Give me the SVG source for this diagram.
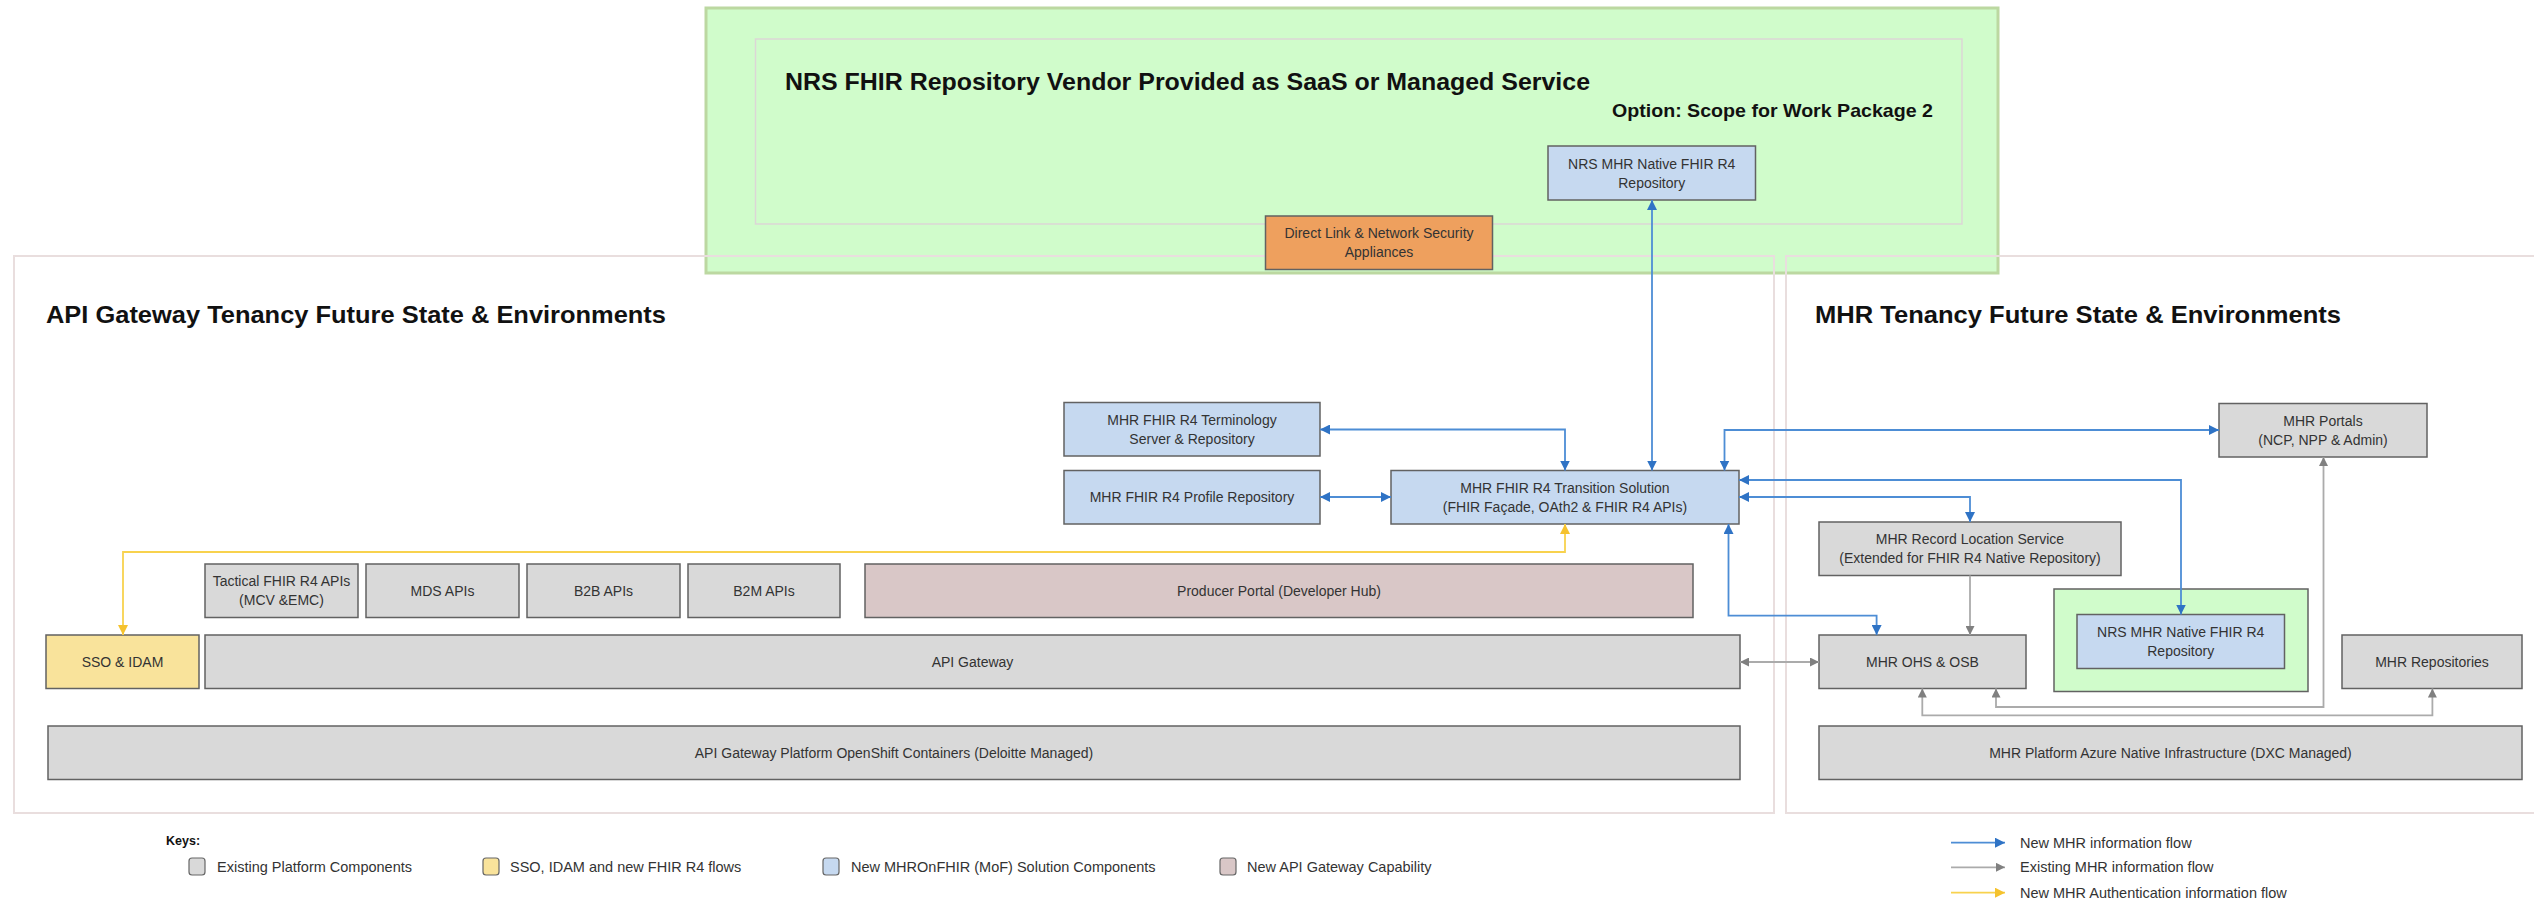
<svg xmlns="http://www.w3.org/2000/svg" width="2534" height="900" viewBox="0 0 2534 900">
  <style>
    text { font-family: "Liberation Sans", Arial, sans-serif; }
    .node rect { stroke: #626262; stroke-width: 1.5; }
    .node text { font-size: 14px; fill: #333333; text-anchor: middle; dominant-baseline: central; }
    .grey { fill: #d9d9d9; }
    .blue { fill: #c6d9f0; }
    .yellow { fill: #f9e39b; }
    .rose { fill: #d9c7c7; }
    .orange { fill: #eea05e; }
    .title { font-size: 24px; font-weight: bold; fill: #111111; }
    .zone { fill: none; stroke: #e9dede; stroke-width: 2; }
    .flow { fill: none; stroke-width: 1.8; }
    .new { stroke: #4d8dd5; }
    .old { stroke: #ababab; }
    .auth { stroke: #f8d24e; }
    .legend { font-size: 14.5px; fill: #333333; dominant-baseline: central; }
    .swatch { stroke: #666666; stroke-width: 1.2; }
  </style>
  <defs>
    <marker id="arrow-new" viewBox="0 0 10 10" refX="10" refY="5" markerUnits="userSpaceOnUse" markerWidth="10" markerHeight="10" orient="auto-start-reverse">
      <path d="M0,0 L10,5 L0,10 z" fill="#2f73c5"/>
    </marker>
    <marker id="arrow-old" viewBox="0 0 10 10" refX="10" refY="5" markerUnits="userSpaceOnUse" markerWidth="9" markerHeight="9" orient="auto-start-reverse">
      <path d="M0,0 L10,5 L0,10 z" fill="#808080"/>
    </marker>
    <marker id="arrow-auth" viewBox="0 0 10 10" refX="10" refY="5" markerUnits="userSpaceOnUse" markerWidth="10" markerHeight="10" orient="auto-start-reverse">
      <path d="M0,0 L10,5 L0,10 z" fill="#f5c22e"/>
    </marker>
  </defs>

  <rect width="2534" height="900" fill="#ffffff"/>

  <!-- Vendor SaaS / managed service zone -->
  <g id="vendor-zone">
    <rect x="706" y="8" width="1292" height="265" fill="#d0fccb" stroke="#bcd8a1" stroke-width="3"/>
    <rect x="755.5" y="39" width="1206.5" height="185" fill="none" stroke="#dcd6d6" stroke-width="1.5"/>
    <text class="title" x="785" y="90" textLength="805" lengthAdjust="spacingAndGlyphs">NRS FHIR Repository Vendor Provided as SaaS or Managed Service</text>
    <text x="1612" y="117" font-size="19" font-weight="bold" fill="#111111" textLength="321" lengthAdjust="spacingAndGlyphs">Option: Scope for Work Package 2</text>
  </g>

  <!-- Tenancy zones -->
  <g id="api-gateway-tenancy">
    <rect class="zone" x="14" y="256" width="1760" height="557"/>
    <text class="title" x="46" y="323" textLength="620" lengthAdjust="spacingAndGlyphs">API Gateway Tenancy Future State &amp; Environments</text>
  </g>
  <g id="mhr-tenancy">
    <rect class="zone" x="1786" y="256" width="780" height="557"/>
    <text class="title" x="1815" y="323" textLength="526" lengthAdjust="spacingAndGlyphs">MHR Tenancy Future State &amp; Environments</text>
  </g>

  <!-- Nodes -->
  <g id="nrs-repo-vendor" class="node">
    <rect class="blue" x="1548" y="146" width="207.5" height="54"/>
    <text x="1651.7" y="164">NRS MHR Native FHIR R4</text>
    <text x="1651.7" y="183">Repository</text>
  </g>
  <g id="direct-link" class="node">
    <rect class="orange" x="1265.5" y="216" width="227" height="53.5"/>
    <text x="1379" y="233">Direct Link &amp; Network Security</text>
    <text x="1379" y="252">Appliances</text>
  </g>

  <g id="terminology" class="node">
    <rect class="blue" x="1064" y="402.5" width="256" height="53.5"/>
    <text x="1192" y="419.5">MHR FHIR R4 Terminology</text>
    <text x="1192" y="438.5">Server &amp; Repository</text>
  </g>
  <g id="profile-repo" class="node">
    <rect class="blue" x="1064" y="470.5" width="256" height="53.5"/>
    <text x="1192" y="497">MHR FHIR R4 Profile Repository</text>
  </g>
  <g id="transition" class="node">
    <rect class="blue" x="1391" y="470.5" width="348" height="53.5"/>
    <text x="1565" y="487.5">MHR FHIR R4 Transition Solution</text>
    <text x="1565" y="506.5">(FHIR Façade, OAth2 &amp; FHIR R4 APIs)</text>
  </g>

  <g id="tactical-apis" class="node">
    <rect class="grey" x="205" y="564" width="153" height="53.5"/>
    <text x="281.5" y="581">Tactical FHIR R4 APIs</text>
    <text x="281.5" y="600">(MCV &amp;EMC)</text>
  </g>
  <g id="mds-apis" class="node">
    <rect class="grey" x="366" y="564" width="153" height="53.5"/>
    <text x="442.5" y="591">MDS APIs</text>
  </g>
  <g id="b2b-apis" class="node">
    <rect class="grey" x="527" y="564" width="153" height="53.5"/>
    <text x="603.5" y="591">B2B APIs</text>
  </g>
  <g id="b2m-apis" class="node">
    <rect class="grey" x="688" y="564" width="152" height="53.5"/>
    <text x="764" y="591">B2M APIs</text>
  </g>
  <g id="producer-portal" class="node">
    <rect class="rose" x="865" y="564" width="828" height="53.5"/>
    <text x="1279" y="591">Producer Portal (Developer Hub)</text>
  </g>

  <g id="sso-idam" class="node">
    <rect class="yellow" x="46" y="635" width="153" height="53.5"/>
    <text x="122.5" y="662">SSO &amp; IDAM</text>
  </g>
  <g id="api-gateway" class="node">
    <rect class="grey" x="205" y="635" width="1535" height="53.5"/>
    <text x="972.5" y="662">API Gateway</text>
  </g>
  <g id="api-platform" class="node">
    <rect class="grey" x="48" y="726" width="1692" height="53.5"/>
    <text x="894" y="753">API Gateway Platform OpenShift Containers (Deloitte Managed)</text>
  </g>

  <g id="mhr-portals" class="node">
    <rect class="grey" x="2219" y="403.5" width="208" height="53.5"/>
    <text x="2323" y="420.5">MHR Portals</text>
    <text x="2323" y="439.5">(NCP, NPP &amp; Admin)</text>
  </g>
  <g id="record-location" class="node">
    <rect class="grey" x="1819" y="522" width="302" height="53.5"/>
    <text x="1970" y="539">MHR Record Location Service</text>
    <text x="1970" y="558">(Extended for FHIR R4 Native Repository)</text>
  </g>
  <g id="ohs-osb" class="node">
    <rect class="grey" x="1819" y="635" width="207" height="53.5"/>
    <text x="1922.5" y="662">MHR OHS &amp; OSB</text>
  </g>
  <g id="nrs-repo-mhr" class="node">
    <rect x="2054" y="589" width="254" height="102.5" fill="#d0fccb" stroke="#bcd8a1" stroke-width="3"/>
    <rect class="blue" x="2077" y="614.5" width="207.5" height="54"/>
    <text x="2180.7" y="632">NRS MHR Native FHIR R4</text>
    <text x="2180.7" y="651">Repository</text>
  </g>
  <g id="mhr-repositories" class="node">
    <rect class="grey" x="2342" y="635" width="180" height="53.5"/>
    <text x="2432" y="662">MHR Repositories</text>
  </g>
  <g id="mhr-platform" class="node">
    <rect class="grey" x="1819" y="726" width="703" height="53.5"/>
    <text x="2170.5" y="753">MHR Platform Azure Native Infrastructure (DXC Managed)</text>
  </g>

  <!-- Connectors -->
  <g id="connectors">
    <path class="flow new" d="M1320,429.5 H1565 V470.5" marker-start="url(#arrow-new)" marker-end="url(#arrow-new)"/>
    <path class="flow new" d="M1320,497 H1391" marker-start="url(#arrow-new)" marker-end="url(#arrow-new)"/>
    <path class="flow new" d="M1652,470.5 V200" marker-start="url(#arrow-new)" marker-end="url(#arrow-new)"/>
    <path class="flow new" d="M1724.5,470.5 V430 H2219" marker-start="url(#arrow-new)" marker-end="url(#arrow-new)"/>
    <path class="flow new" d="M1739,480 H2181 V614.5" marker-start="url(#arrow-new)" marker-end="url(#arrow-new)"/>
    <path class="flow new" d="M1739,497 H1970 V522" marker-start="url(#arrow-new)" marker-end="url(#arrow-new)"/>
    <path class="flow new" d="M1728.5,524 V615.7 H1876.6 V635" marker-start="url(#arrow-new)" marker-end="url(#arrow-new)"/>
    <path class="flow auth" d="M1565,524 V552 H123 V635" marker-start="url(#arrow-auth)" marker-end="url(#arrow-auth)"/>
    <path class="flow old" d="M1740,662 H1819" marker-start="url(#arrow-old)" marker-end="url(#arrow-old)"/>
    <path class="flow old" d="M1970,575.5 V635" marker-end="url(#arrow-old)"/>
    <path class="flow old" d="M2323.5,457 V707 H1996 V688.5" marker-start="url(#arrow-old)" marker-end="url(#arrow-old)"/>
    <path class="flow old" d="M1922.3,688.5 V715.3 H2432.4 V688.5" marker-start="url(#arrow-old)" marker-end="url(#arrow-old)"/>
  </g>

  <!-- Keys -->
  <g id="keys">
    <text x="166" y="845" font-size="12.5" font-weight="bold" fill="#111111">Keys:</text>
    <rect class="grey swatch" x="189" y="858" width="16" height="17" rx="3"/>
    <text class="legend" x="217" y="866.7">Existing Platform Components</text>
    <rect class="yellow swatch" x="483" y="858" width="16" height="17" rx="3"/>
    <text class="legend" x="510" y="866.7">SSO, IDAM and new FHIR R4 flows</text>
    <rect class="blue swatch" x="823" y="858" width="16" height="17" rx="3"/>
    <text class="legend" x="851" y="866.7">New MHROnFHIR (MoF) Solution Components</text>
    <rect class="rose swatch" x="1220" y="858" width="16" height="17" rx="3"/>
    <text class="legend" x="1247" y="866.7">New API Gateway Capability</text>

    <path class="flow new" d="M1951,842.7 H2005" marker-end="url(#arrow-new)"/>
    <text class="legend" x="2020" y="842.7" font-size="15">New MHR information flow</text>
    <path class="flow old" d="M1951,867.3 H2005" marker-end="url(#arrow-old)"/>
    <text class="legend" x="2020" y="867.3" font-size="15">Existing MHR information flow</text>
    <path class="flow auth" d="M1951,892.7 H2005" marker-end="url(#arrow-auth)"/>
    <text class="legend" x="2020" y="892.7" font-size="15">New MHR Authentication information flow</text>
  </g>
</svg>
